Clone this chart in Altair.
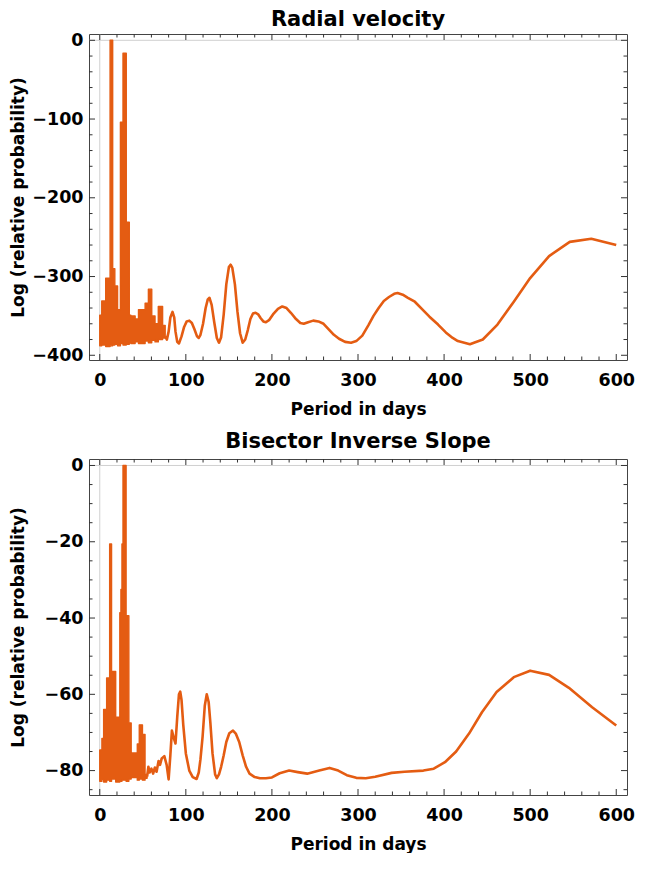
import altair as alt
import pandas as pd

ORANGE = "#E45C12"
FONT = "DejaVu Sans"
TICK = "#333333"

# ---------------- Radial velocity (top) ----------------
# dense, rapidly oscillating region (upper / lower envelope, step-after)
rv_noise_period = [0, 2.3, 6.9, 12.0, 15.0, 17.5, 20.7, 24.0, 27.0, 30.8, 34.3, 36.1,
                   41.1, 45.0, 52.7, 56.5, 60.4, 64.2, 68.0, 73.0, 76.0]
rv_noise_upper = [-349, -331, -302, 0, -290, -312, -342, -104, -16.5, -231, -349, -350,
                  -354, -342, -334, -316, -350, -360, -338, -362, -376]
rv_noise_lower = [-388, -387, -389, -388, -387, -386, -388, -385, -387, -386, -384, -385,
                  -383, -385, -382, -384, -381, -383, -380, -378, -376]

rv_period = [76, 78, 80, 82, 84.5, 86.5, 88, 90, 92, 95, 98, 101, 104, 107, 110, 113, 115,
             117, 120, 123, 125.5, 127.5, 130, 133, 136, 138.5, 141, 144, 147, 150, 152,
             154, 157, 160, 163, 166, 169, 172, 175, 178, 181, 184, 187, 190, 193, 197,
             202, 207, 212, 217, 222, 228, 233, 237, 242, 248, 254, 260, 266, 272, 278,
             285, 292, 298, 305, 312, 318, 324, 330, 336, 342, 346, 352, 358, 366, 375,
             383, 393, 402, 410, 416, 430, 445, 462, 481, 500, 522, 546, 571, 600]
rv_logp = [-376, -380, -370, -352, -345, -352, -370, -383, -385, -376, -364, -357, -356,
           -359, -367, -376, -378, -374, -360, -340, -329, -327, -336, -358, -378, -384,
           -377, -348, -310, -288, -285, -289, -310, -345, -372, -384, -380, -368, -354,
           -347, -346, -348, -353, -357, -358, -355, -347, -341, -338, -340, -346, -354,
           -359, -360, -358, -356, -357, -360, -367, -374, -379, -383, -384, -382, -375,
           -362, -350, -340, -331, -326, -322, -321, -323, -327, -332, -342, -351, -361,
           -371, -378, -382, -386, -380, -361, -332, -302, -274, -256, -252, -260]

# ---------------- Bisector inverse slope (bottom) ----------------
bis_noise_period = [0, 2.5, 4.5, 8.0, 11.5, 13.7, 18.5, 23.3, 24.6, 25.8, 27.0, 30.6,
                    33.8, 36.5, 43.6, 45.9, 49.6, 52.6, 55.0]
bis_noise_upper = [-74.6, -71.6, -64.0, -55.7, -20.6, -54.0, -66.0, -38.6, -32.5, -20.6,
                   0.0, -39.4, -67.5, -75.4, -73.0, -68.0, -70.5, -81.0, -81.6]
bis_noise_lower = [-82.8, -82.3, -83.0, -82.5, -82.8, -82.2, -83.0, -82.5, -82.8, -82.3,
                   -82.5, -82.8, -82.2, -81.8, -82.5, -82.2, -82.5, -82.0, -81.6]

bis_period = [55, 56.5, 58, 60, 62, 64, 66, 68.3, 70, 72, 75, 77.7, 80, 82, 83.8, 86, 88,
              90, 92, 93.5, 95, 97, 100, 104, 108, 112.5, 115, 117, 119.5, 122, 124.3,
              126.5, 128.5, 131, 134, 136, 138.5, 141, 144, 147, 150.5, 154.8, 158, 162,
              166, 170, 174, 180, 186, 193, 200, 209, 220, 230, 241, 255, 267, 277, 287,
              298, 309, 320, 339, 354, 376, 388, 401, 414, 429, 444, 461, 481, 500, 522,
              545, 572, 600]
bis_logp = [-81.6, -79, -80.5, -79.5, -80.8, -79.2, -80.3, -77.5, -78.5, -76.8, -76.2,
            -78.5, -82.3, -76, -69.5, -71.5, -72.9, -66, -60, -59.3, -61.5, -68, -75.5,
            -80, -81.7, -82.2, -80.5, -77, -71, -63, -60, -62, -67.5, -75.5, -81, -82,
            -81, -79, -76, -72.5, -70.2, -69.5, -70.3, -72.5, -76, -79, -80.8, -81.7, -82,
            -82, -81.8, -80.7, -80, -80.4, -80.8, -80, -79.3, -80, -81.2, -81.9, -82,
            -81.6, -80.6, -80.3, -80, -79.5, -77.8, -75, -70.3, -64.7, -59.4, -55.5,
            -53.8, -54.9, -58.3, -63.4, -68.2]

# ---------------- ticks ----------------
x_major = [0, 100, 200, 300, 400, 500, 600]
x_minor = [v for v in range(20, 600, 20) if v % 100 != 0]
rv_y_major = [-400, -300, -200, -100, 0]
rv_y_minor = [v for v in range(-400, 1, 20) if v % 100 != 0]
bis_y_major = [-80, -60, -40, -20, 0]
bis_y_minor = [v for v in range(-85, 1, 5) if v % 20 != 0]

X_DOMAIN = [-12.5, 612.5]


def panel(title, nx, nu, nl, lx, ly, ydom, ymaj, ymin, W, H, ext, toff):
    xs = alt.Scale(domain=X_DOMAIN, nice=False, zero=False)
    ys = alt.Scale(domain=ydom, nice=False, zero=False)
    noise = pd.DataFrame({"p": nx, "hi": nu, "lo": nl})
    line = pd.DataFrame({"p": lx, "v": ly})
    zero = pd.DataFrame({"v": [0]})

    xaxis = alt.Axis(values=x_major, title="Period in days", grid=False, domain=False,
                     ticks=False, labelPadding=11, titlePadding=13)
    yaxis = alt.Axis(values=ymaj, title="Log (relative probability)", grid=False,
                     domain=False, ticks=False, labelPadding=6, titlePadding=7,
                     minExtent=ext, maxExtent=ext)

    zv = alt.Chart(zero).mark_rule(color="#d0d0d0", strokeWidth=1).encode(
        x=alt.X("v:Q", scale=xs, axis=xaxis))
    zh = alt.Chart(zero).mark_rule(color="#d0d0d0", strokeWidth=1).encode(
        y=alt.Y("v:Q", scale=ys, axis=yaxis))
    area = alt.Chart(noise).mark_area(
        color=ORANGE, interpolate="step-after", stroke=ORANGE, strokeWidth=1.4,
        strokeJoin="round", opacity=1).encode(
        x=alt.X("p:Q"),
        y=alt.Y("hi:Q"),
        y2="lo:Q")
    ln = alt.Chart(line).mark_line(color=ORANGE, strokeWidth=2.6, strokeJoin="round").encode(
        x=alt.X("p:Q"),
        y=alt.Y("v:Q"))

    layers = [zv, zh, area, ln]
    for vals, length in ((x_major, 6), (x_minor, 3.5)):
        d = pd.DataFrame({"v": vals})
        layers.append(alt.Chart(d).mark_rule(color=TICK, strokeWidth=1).encode(
            x=alt.X("v:Q"), y=alt.value(H), y2=alt.value(H - length)))
        layers.append(alt.Chart(d).mark_rule(color=TICK, strokeWidth=1).encode(
            x=alt.X("v:Q"), y=alt.value(0), y2=alt.value(length)))
    for vals, length in ((ymaj, 6), (ymin, 3.5)):
        d = pd.DataFrame({"v": vals})
        layers.append(alt.Chart(d).mark_rule(color=TICK, strokeWidth=1).encode(
            y=alt.Y("v:Q"), x=alt.value(0), x2=alt.value(length)))
        layers.append(alt.Chart(d).mark_rule(color=TICK, strokeWidth=1).encode(
            y=alt.Y("v:Q"), x=alt.value(W), x2=alt.value(W - length)))

    return alt.layer(*layers).properties(
        width=W, height=H,
        title=alt.TitleParams(title, fontSize=21, font=FONT, fontWeight="bold",
                              color="black", anchor="middle", offset=toff))


top = panel("Radial velocity", rv_noise_period, rv_noise_upper, rv_noise_lower,
            rv_period, rv_logp, [-406, 8], rv_y_major, rv_y_minor, 538, 326, 55, 1)
bottom = panel("Bisector Inverse Slope", bis_noise_period, bis_noise_upper, bis_noise_lower,
               bis_period, bis_logp, [-86.4, 1.7], bis_y_major, bis_y_minor, 538, 336, 55, 4)

chart = alt.vconcat(top, bottom, spacing=12).properties(
    background="white", padding=0
).configure_view(
    stroke="#444444", strokeWidth=1
).configure_axis(
    labelFont=FONT, labelFontSize=17.5, labelFontWeight="bold", labelColor="black",
    titleFont=FONT, titleFontSize=17, titleFontWeight="bold", titleColor="black"
)

chart.save("out.html", embed_options={"renderer": "svg", "actions": False})
